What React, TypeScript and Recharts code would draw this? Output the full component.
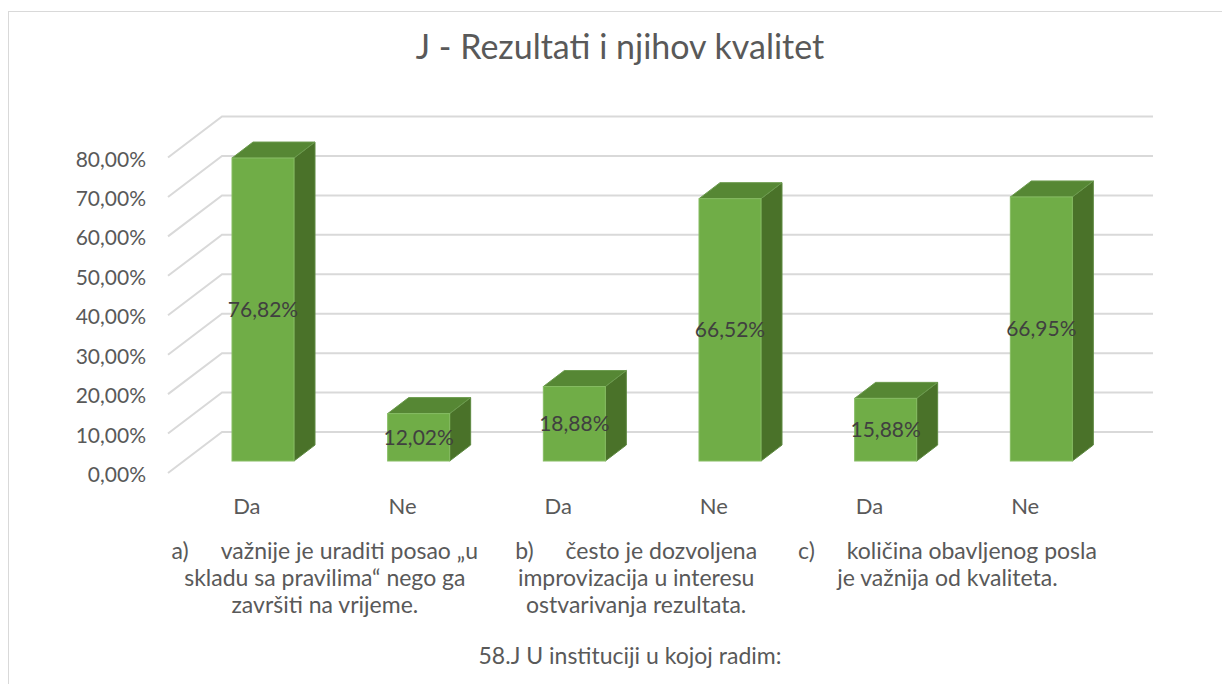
import React from 'react';
import { BarChart, Bar, XAxis, YAxis, CartesianGrid, LabelList } from 'recharts';

const answers = ['Da', 'Ne', 'Da', 'Ne', 'Da', 'Ne'];
const shares = [76.82, 12.02, 18.88, 66.52, 15.88, 66.95];
const yTicks = [0, 10, 20, 30, 40, 50, 60, 70, 80];
const groupLines = [
  ['a)|važnije je uraditi posao „u', 'skladu sa pravilima“ nego ga', 'završiti na vrijeme.'],
  ['b)|često je dozvoljena', 'improvizacija u interesu', 'ostvarivanja rezultata.'],
  ['c)|količina obavljenog posla', 'je važnija od kvaliteta.'],
];

const data = answers.map((a, i) => ({ name: `${a}-${i}`, answer: a, value: shares[i] }));

const W = 1222;
const H = 684;
const FONT = 'Lato, "Open Sans", sans-serif';
const TEXT = '#595959';

// 3d depth of each bar
const DX = 21;
const DY = 16;

const fmt = (v: number) => v.toFixed(2).replace('.', ',') + '%';

const Box3D = (props: any) => {
  const { x, y, width, height } = props;
  if (width == null || height == null) return null;
  const top = `${x},${y} ${x + DX},${y - DY} ${x + width + DX},${y - DY} ${x + width},${y}`;
  const side = `${x + width},${y} ${x + width + DX},${y - DY} ${x + width + DX},${y + height - DY} ${x + width},${y + height}`;
  return (
    <g>
      <polygon points={side} fill="#4A7229" stroke="#5E8A42" strokeWidth={1} />
      <polygon points={top} fill="#568734" stroke="#6C9B4E" strokeWidth={1} />
      <rect x={x} y={y} width={width} height={height} fill="#70AD47" stroke="#86BC63" strokeWidth={1} />
    </g>
  );
};

const gridLine = (props: any) => {
  const { y1, index } = props;
  const pts = `168,${y1 + 12} 222,${y1 - 29} 1153,${y1 - 29}`;
  return <polyline key={`g-${index}`} points={pts} fill="none" stroke="#D9D9D9" strokeWidth={2} />;
};

const YTick = (props: any) => {
  const { y, payload } = props;
  return (
    <text x={146} y={y + 21} textAnchor="end" fontSize={21} fill={TEXT} fontFamily={FONT}>
      {fmt(payload.value)}
    </text>
  );
};

const XTick = (props: any) => {
  const { x, payload, index } = props;
  const row = data[index] || data.find((d) => d.name === payload.value);
  const cx = x - 16;
  const group = index % 2 === 0 ? groupLines[index / 2] : null;
  const gx = cx + 78;
  return (
    <g>
      <text x={cx} y={514} textAnchor="middle" fontSize={22} fill={TEXT} fontFamily={FONT}>
        {row ? row.answer : ''}
      </text>
      {group &&
        group.map((line, i) => {
          const parts = line.split('|');
          return (
            <text key={i} x={gx} y={559 + i * 27} textAnchor="middle" fontSize={23} fill={TEXT} fontFamily={FONT}>
              {parts.length > 1 ? (
                <>
                  <tspan>{parts[0]}</tspan>
                  <tspan dx={32}>{parts[1]}</tspan>
                </>
              ) : (
                line
              )}
            </text>
          );
        })}
    </g>
  );
};

export default function App() {
  return (
    <div style={{ position: 'absolute', left: 0, top: 0, width: W, height: H, background: '#fff' }}>
      <svg width={W} height={H} style={{ position: 'absolute', left: 0, top: 0 }}>
        <rect x={8.5} y={11.5} width={1230} height={700} fill="none" stroke="#D9D9D9" strokeWidth={1} />
        <text x={620} y={59} textAnchor="middle" fontSize={34} fill={TEXT} fontFamily={FONT}>
          J - Rezultati i njihov kvalitet
        </text>
        <text x={630} y={664} textAnchor="middle" fontSize={23} fill={TEXT} fontFamily={FONT}>
          58.J U instituciji u kojoj radim:
        </text>
      </svg>
      <div style={{ position: 'absolute', left: 0, top: 0 }}>
        <BarChart width={W} height={H} data={data} margin={{ top: 145.5, right: 103, bottom: 0, left: 0 }}>
          <CartesianGrid horizontal={gridLine} vertical={false} />
          <YAxis
            width={185}
            domain={[0, 80]}
            ticks={yTicks}
            axisLine={false}
            tickLine={false}
            tick={<YTick />}
            interval={0}
          />
          <XAxis dataKey="name" axisLine={false} tickLine={false} tick={<XTick />} interval={0} height={223} />
          <Bar dataKey="value" barSize={62} shape={<Box3D />} isAnimationActive={false}>
            <LabelList dataKey="value" position="center" formatter={(v: any) => fmt(Number(v))} fill="#404040" fontSize={21} fontFamily={FONT} />
          </Bar>
        </BarChart>
      </div>
    </div>
  );
}
